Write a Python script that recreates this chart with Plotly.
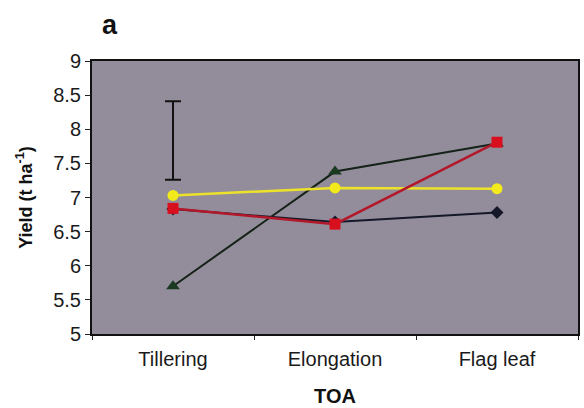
import plotly.graph_objects as go

# Time of application (TOA) stages
stages = ["Tillering", "Elongation", "Flag leaf"]

# Grain yield (t ha-1) per treatment
yield_diamond = [6.83, 6.64, 6.78]
yield_triangle = [5.70, 7.38, 7.79]
yield_circle = [7.03, 7.14, 7.13]
yield_square = [6.84, 6.61, 7.81]

# LSD bar drawn at the first stage
lsd_low = 7.26
lsd_high = 8.41

fig = go.Figure()

fig.add_trace(go.Scatter(
    x=stages, y=yield_diamond, mode="lines+markers",
    line=dict(color="#141828", width=2),
    marker=dict(symbol="diamond", size=10, color="#141828"),
))
fig.add_trace(go.Scatter(
    x=stages, y=yield_triangle, mode="lines+markers",
    line=dict(color="#152218", width=2),
    marker=dict(symbol="triangle-up", size=12, color="#1a3a22"),
))
fig.add_trace(go.Scatter(
    x=stages, y=yield_circle, mode="lines+markers",
    line=dict(color="#ece22a", width=2.5),
    marker=dict(symbol="circle", size=11, color="#f2ea1a"),
))
fig.add_trace(go.Scatter(
    x=stages, y=yield_square, mode="lines+markers",
    line=dict(color="#b3182a", width=2.5),
    marker=dict(symbol="square", size=11, color="#d8101e"),
))

# LSD error bar
lsd_mid = (lsd_low + lsd_high) / 2
fig.add_trace(go.Scatter(
    x=[stages[0]], y=[lsd_mid], mode="markers",
    marker=dict(size=1, color="rgba(0,0,0,0)"),
    error_y=dict(type="data", array=[lsd_high - lsd_mid], symmetric=True,
                 color="#111111", thickness=2, width=8),
))

fig.update_layout(
    width=584, height=408,
    margin=dict(l=92, r=4, t=61, b=73),
    paper_bgcolor="white",
    plot_bgcolor="#938d9b",
    showlegend=False,
    font=dict(family="Liberation Sans, Arial, sans-serif", color="#1a1a1a"),
    annotations=[
        dict(text="<b>a</b>", xref="paper", yref="paper",
             x=(110 - 92) / (584 - 96), y=1 + (61 - 25) / 274,
             xanchor="center", yanchor="middle",
             showarrow=False, font=dict(size=27, color="#111111")),
    ],
)

fig.update_xaxes(
    type="category", range=[-0.5, 2.5],
    showline=True, linecolor="#111111", linewidth=2, mirror=True,
    ticks="outside", tickson="boundaries", ticklen=4, tickcolor="#222222",
    ticklabelstandoff=6,
    showgrid=False,
    tickfont=dict(size=20, color="#1a1a1a"),
    title=dict(text="<b>TOA</b>", font=dict(size=20, color="#111111"), standoff=20),
)
fig.update_yaxes(
    range=[5, 9], dtick=0.5,
    showline=True, linecolor="#111111", linewidth=2, mirror=True,
    ticks="outside", ticklen=5, tickcolor="#222222",
    showgrid=False, zeroline=False,
    tickfont=dict(size=20, color="#1a1a1a"),
    title=dict(text="<b>Yield (t ha<sup>-1</sup>)</b>", font=dict(size=18, color="#111111"),
               standoff=16),
)

fig.write_html("out.html")
